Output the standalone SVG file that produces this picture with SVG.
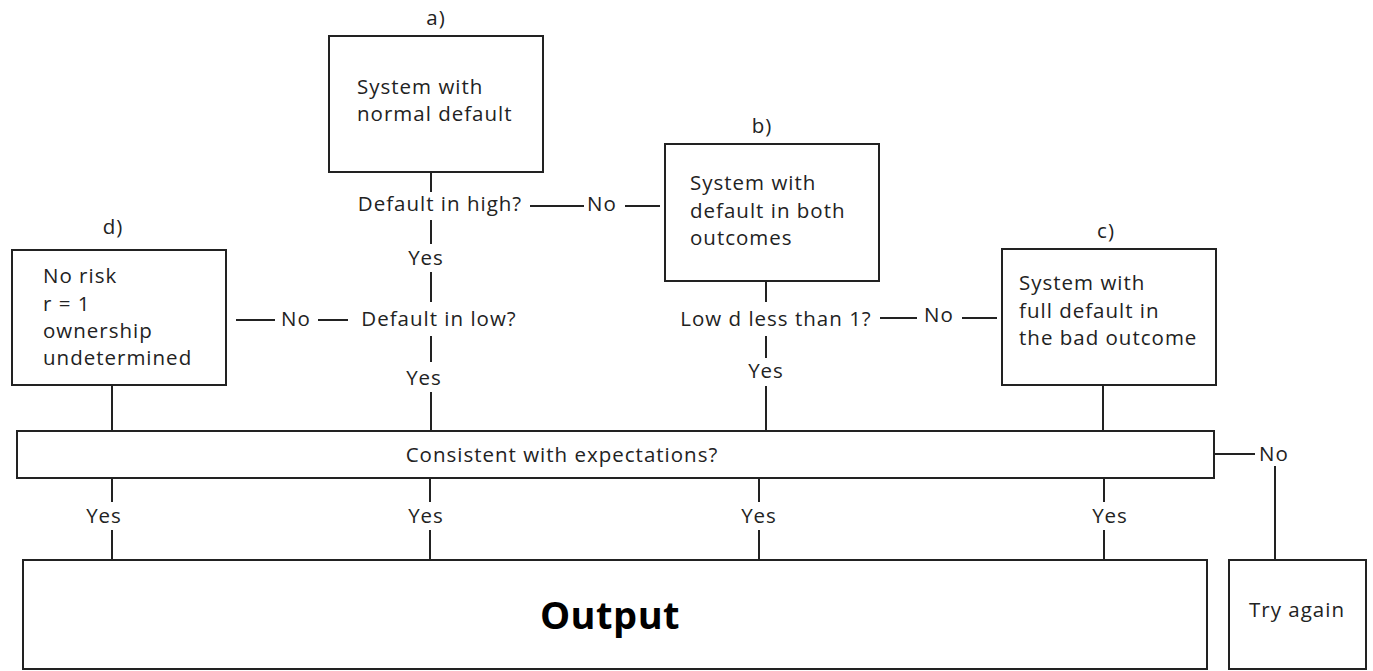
<svg xmlns="http://www.w3.org/2000/svg" width="1373" height="671" viewBox="0 0 1373 671">
<style>
text{font-family:"Open Sans","Noto Sans","DejaVu Sans",sans-serif;font-size:20.5px;letter-spacing:1px;fill:#222}
.box{fill:#fff;stroke:#222;stroke-width:2}
.c{text-anchor:middle}
.ln{stroke:#222;stroke-width:2;fill:none}
.big{font-size:38px;font-weight:bold;letter-spacing:0.5px;fill:#000}
</style>
<rect width="1373" height="671" fill="#fff"/>
<g id="connectors">
<path class="ln" d="M431,172V192M431,220V244M431,272V302M431,336V362M431,392V431"/>
<path class="ln" d="M530,206H584M625,206H660"/>
<path class="ln" d="M236,320H275M318,320H348"/>
<path class="ln" d="M766,281V302M766,336V358M766,386V431"/>
<path class="ln" d="M880,318H917M962,318H997"/>
<path class="ln" d="M112,385V431M1103,385V431"/>
<path class="ln" d="M112,478V502M112,530V560M430,478V502M430,530V560M759,478V502M759,530V560M1104,478V502M1104,530V560"/>
<path class="ln" d="M1214,454H1255M1275,466V560"/>
</g>
<g id="node-a">
<text class="c" x="436" y="25">a)</text>
<rect class="box" x="329" y="36" width="214" height="136"/>
<text x="357" y="94">System with</text>
<text x="357" y="121">normal default</text>
</g>
<g id="q-high">
<text class="c" x="440" y="211">Default in high?</text>
<text class="c" x="602" y="211">No</text>
</g>
<g id="node-b">
<text class="c" x="762" y="133">b)</text>
<rect class="box" x="665" y="144" width="214" height="137"/>
<text x="690" y="190">System with</text>
<text x="690" y="218">default in both</text>
<text x="690" y="245">outcomes</text>
</g>
<g id="node-c">
<text class="c" x="1106" y="238">c)</text>
<rect class="box" x="1002" y="249" width="214" height="136"/>
<text x="1019" y="290">System with</text>
<text x="1019" y="318">full default in</text>
<text x="1019" y="345">the bad outcome</text>
</g>
<g id="node-d">
<text class="c" x="113" y="234">d)</text>
<rect class="box" x="12" y="250" width="214" height="135"/>
<text x="43" y="283">No risk</text>
<text x="43" y="311">r = 1</text>
<text x="43" y="338">ownership</text>
<text x="43" y="365">undetermined</text>
</g>
<g id="q-low">
<text class="c" x="296" y="326">No</text>
<text class="c" x="439" y="326">Default in low?</text>
<text class="c" x="426" y="265">Yes</text>
<text class="c" x="424" y="385">Yes</text>
</g>
<g id="q-lowd">
<text class="c" x="776" y="326">Low d less than 1?</text>
<text class="c" x="939" y="322">No</text>
<text class="c" x="766" y="378">Yes</text>
</g>
<g id="consistent">
<rect class="box" x="17" y="431" width="1197" height="47"/>
<text class="c" x="562" y="462">Consistent with expectations?</text>
<text class="c" x="1274" y="461">No</text>
<text class="c" x="104" y="523">Yes</text>
<text class="c" x="426" y="523">Yes</text>
<text class="c" x="759" y="523">Yes</text>
<text class="c" x="1110" y="523">Yes</text>
</g>
<g id="output">
<rect class="box" x="23" y="560" width="1184" height="109"/>
<text class="c big" x="610" y="629">Output</text>
</g>
<g id="try-again">
<rect class="box" x="1229" y="560" width="137" height="109"/>
<text class="c" x="1297" y="617">Try again</text>
</g>
</svg>
